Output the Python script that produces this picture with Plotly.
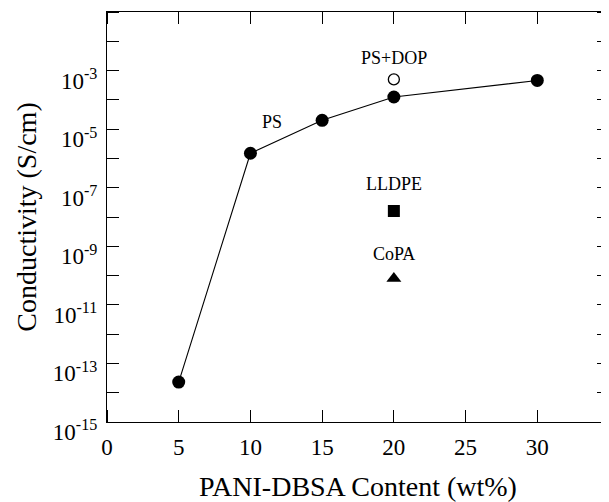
import plotly.graph_objects as go
import math

# PS series (filled circles, connected)
ps_x = [5, 10, 15, 20, 30]
ps_y = [2.3e-14, 1.5e-6, 2.0e-5, 1.25e-4, 4.6e-4]

# Other blends at 20 wt%
dop_x = [20]; dop_y = [5.0e-4]      # PS+DOP (open circle)
lldpe_x = [20]; lldpe_y = [1.6e-8]  # LLDPE (square)
copa_x = [20]; copa_y = [8.0e-11]   # CoPA (triangle)

x_ticks = [0, 5, 10, 15, 20, 25, 30]
y_label_exps = [-15, -13, -11, -9, -7, -5, -3]
y_tickvals = [10.0 ** e for e in y_label_exps]
y_ticktext = [f"10<sup>{e}</sup>" for e in y_label_exps]
y_mark_exps = list(range(-15, 0))

# tick marks are drawn as minor ticks (a hair off the labelled values so
# plotly does not drop the ones that coincide with labelled ticks)
EPS = 1e-7
x_marks = [v + EPS for v in x_ticks]
y_marks = [10.0 ** (e + EPS) for e in y_mark_exps]

FONT = "Liberation Serif, Times New Roman, serif"

fig = go.Figure()
fig.add_trace(go.Scatter(x=ps_x, y=ps_y, mode="lines+markers",
                         line=dict(color="black", width=1.1),
                         marker=dict(symbol="circle", size=13, color="black"),
                         showlegend=False))
fig.add_trace(go.Scatter(x=dop_x, y=dop_y, mode="markers",
                         marker=dict(symbol="circle-open", size=11, color="black",
                                     line=dict(width=1.3, color="black")),
                         showlegend=False))
fig.add_trace(go.Scatter(x=lldpe_x, y=lldpe_y, mode="markers",
                         marker=dict(symbol="square", size=12, color="black"),
                         showlegend=False))
fig.add_trace(go.Scatter(x=copa_x, y=copa_y, mode="markers",
                         marker=dict(symbol="triangle-up", size=13, color="black"),
                         showlegend=False))

ann_font = dict(family=FONT, size=18, color="black")
anns = [
    ("PS+DOP", dop_x[0], dop_y[0], 0, 21),
    ("LLDPE", lldpe_x[0], lldpe_y[0], 0, 27),
    ("CoPA", copa_x[0], copa_y[0], 0, 24),
    ("PS", ps_x[2], ps_y[2], -50, -2),
]
for txt, ax, ay, xs, ys in anns:
    fig.add_annotation(x=ax, y=math.log10(ay), xref="x", yref="y", text=txt,
                       showarrow=False, xshift=xs, yshift=ys, font=ann_font)

tick_style = dict(ticks="inside", ticklen=12, tickwidth=1.2, tickcolor="black",
                  showgrid=False)

fig.update_xaxes(range=[0, 35], tickmode="array", tickvals=x_ticks,
                 ticktext=[str(v) for v in x_ticks], ticks="",
                 minor=dict(tickvals=x_marks, **tick_style),
                 showline=True, linecolor="black", linewidth=1.2, mirror="allticks",
                 showgrid=False, zeroline=False, automargin=False,
                 ticklabelstandoff=4,
                 tickfont=dict(family=FONT, size=23, color="black"),
                 title=dict(text="PANI-DBSA Content (wt%)", standoff=18,
                            font=dict(family=FONT, size=28, color="black")))
fig.update_yaxes(type="log", range=[-15, -1], tickmode="array", tickvals=y_tickvals,
                 ticktext=y_ticktext, ticks="",
                 minor=dict(tickvals=y_marks, **tick_style),
                 showline=True, linecolor="black", linewidth=1.2, mirror="allticks",
                 showgrid=False, zeroline=False, automargin=False,
                 ticklabelshift=10, ticklabelstandoff=4,
                 tickfont=dict(family=FONT, size=23, color="black"),
                 title=dict(text="Conductivity (S/cm)", standoff=8,
                            font=dict(family=FONT, size=28, color="black")))

# page body has an 8px margin, so the figure is sized/placed to compensate
fig.update_layout(width=601, height=494, plot_bgcolor="white", paper_bgcolor="white",
                  margin=dict(l=99, r=0, t=4, b=80))

fig.write_html("out.html")
